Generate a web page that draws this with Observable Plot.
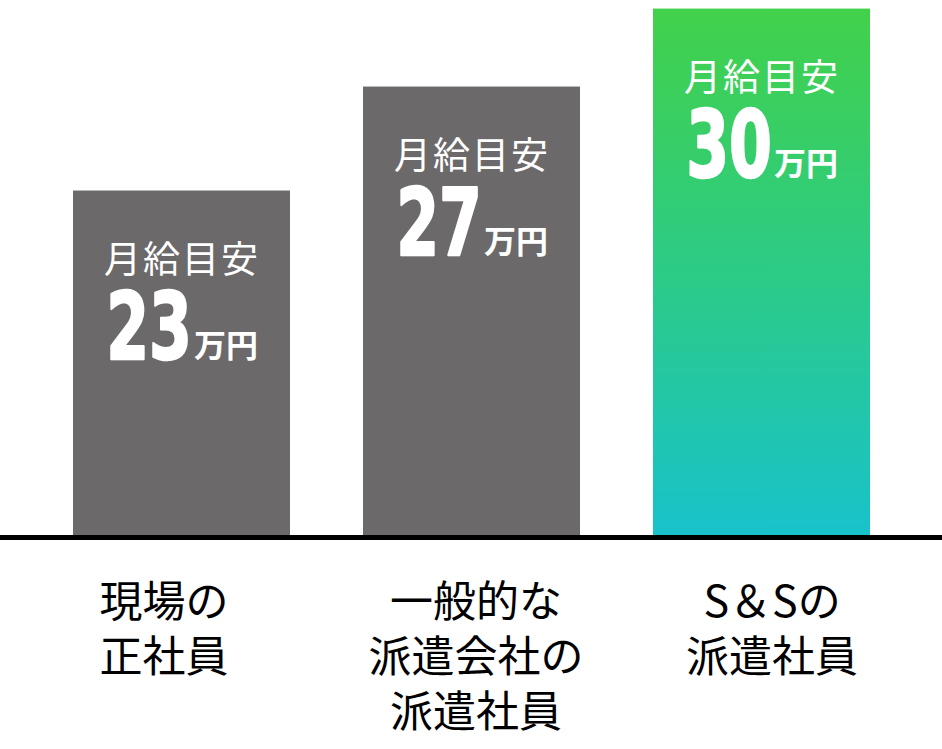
<!DOCTYPE html>
<html><head><meta charset="utf-8">
<script src="https://cdn.jsdelivr.net/npm/d3@7"></script>
<script src="https://cdn.jsdelivr.net/npm/@observablehq/plot@0.6"></script>
<style>
html,body{margin:0;padding:0;background:#fff;overflow:hidden;}
#chart svg{display:block;}
</style></head><body><div id="chart"></div>
<script>
// ---- data ----
const categories = ["現場の\n正社員", "一般的な\n派遣会社の\n派遣社員", "S＆Sの\n派遣社員"];
const salaries = [23, 27, 30];
const captionText = "月給目安";
const unitText = "万円";
const highlighted = "S＆Sの\n派遣社員";

// ---- layout / style ----
const rows = categories.map((category, i) => ({category, salary: salaries[i]}));
const yDomain = [9.67, 30.33];
const labelShift = [-18, 4, 10];
const W = 942, H = 749;
const jp = "Noto Sans CJK JP";
const numFont = "DejaVu Sans";
const numScaleX = 0.67;

const labelMarks = categories.map((c, i) =>
  Plot.text([c], {
    x: d => d, frameAnchor: "bottom", text: d => d,
    textAnchor: "middle", lineAnchor: "top", lineHeight: 1.28,
    dx: labelShift[i], dy: 40,
    fontFamily: jp, fontSize: 43, fontWeight: 400, fill: "#000"
  })
);

const chart = Plot.plot({
  width: W, height: H,
  marginTop: 0, marginBottom: 212, marginLeft: 0, marginRight: 0,
  style: {background: "#fff"},
  x: {domain: categories, paddingInner: 0.252, paddingOuter: 0.25, axis: null},
  y: {domain: yDomain, axis: null},
  marks: [
    Plot.barY(rows.filter(d => d.category !== highlighted),
      {x: "category", y1: () => yDomain[0], y2: "salary", fill: "#6c696a"}),
    Plot.barY(rows.filter(d => d.category === highlighted),
      {x: "category", y1: () => yDomain[0], y2: "salary", fill: "url(#ssGradient)"}),
    Plot.ruleY([yDomain[0]], {stroke: "#000", strokeWidth: 5}),
    Plot.text(rows, {x: "category", y: "salary", text: () => captionText,
      textAnchor: "middle", lineAnchor: "bottom", dy: 82,
      fontFamily: jp, fontSize: 37, fontWeight: 400, fill: "#fff"}),
    Plot.text(rows, {x: "category", y: "salary", text: d => String(d.salary),
      textAnchor: "end", lineAnchor: "bottom", dx: 10, dy: 168,
      fontFamily: numFont, fontSize: 92, fontWeight: "bold", fill: "#fff",
      stroke: "#fff", strokeWidth: 2.5}),
    Plot.text(rows, {x: "category", y: "salary", text: () => unitText,
      textAnchor: "start", lineAnchor: "bottom", dx: 12, dy: 166,
      fontFamily: jp, fontSize: 32, fontWeight: 700, fill: "#fff"}),
    ...labelMarks
  ]
});

const svg = d3.select(chart);
const defs = svg.insert("defs", ":first-child");
const grad = defs.append("linearGradient").attr("id", "ssGradient")
  .attr("x1", 0).attr("y1", 0).attr("x2", 0).attr("y2", 1);
grad.append("stop").attr("offset", "0%").attr("stop-color", "#42d14a");
grad.append("stop").attr("offset", "50%").attr("stop-color", "#2ccb86");
grad.append("stop").attr("offset", "100%").attr("stop-color", "#18c2cb");

svg.selectAll("g").each(function() {
  const g = d3.select(this);
  if (g.attr("font-family") === numFont) {
    g.selectAll("text").each(function() {
      const t = this.getAttribute("transform");
      if (t) {
        this.setAttribute("transform", t + ` scale(${numScaleX},1)`);
      } else {
        const x = +this.getAttribute("x") || 0, y = +this.getAttribute("y") || 0;
        this.removeAttribute("x"); this.removeAttribute("y");
        this.setAttribute("transform", `translate(${x},${y}) scale(${numScaleX},1)`);
      }
    });
  }
  if (g.attr("font-size") === "37") g.attr("letter-spacing", "2px");
});

document.getElementById("chart").appendChild(chart);
</script></body></html>
